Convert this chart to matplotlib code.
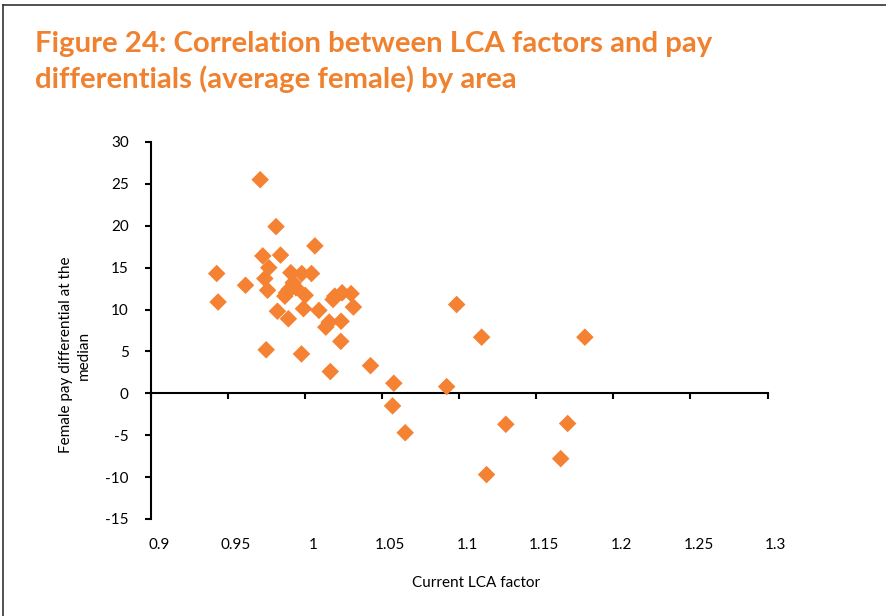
import matplotlib
matplotlib.use('Agg')
import matplotlib.pyplot as plt
from matplotlib.lines import Line2D
from matplotlib import transforms

plt.rcParams['font.family'] = ['Lato', 'DejaVu Sans']

# LCA factor vs female pay differential
lca = [0.9708, 0.9811, 1.0063, 0.9725, 0.9840, 0.9426, 0.9764, 0.9738,
       0.9907, 0.9978, 1.0041, 0.9613, 0.9756, 0.9922, 0.9896, 0.9868,
       1.0000, 0.9435, 0.9989, 0.9820, 0.9891, 1.0089, 1.0181, 1.0192,
       1.0240, 1.0298, 1.0313, 1.0156, 1.0233, 1.0134, 1.0231, 0.9747,
       0.9976, 1.0163, 1.0424, 1.0575, 1.0567, 1.0649, 1.0918, 1.0983,
       1.1145, 1.1815, 1.1302, 1.1703, 1.1658, 1.1177, 0.9940, 0.9879]
pay_diff = [25.5, 19.9, 17.6, 16.4, 16.5, 14.3, 15.0, 13.7,
            14.4, 14.3, 14.3, 12.9, 12.3, 13.2, 12.4, 11.6,
            11.7, 10.9, 10.1, 9.8, 8.9, 9.9, 11.2, 11.6,
            12.0, 11.9, 10.3, 8.5, 8.6, 7.9, 6.2, 5.2,
            4.7, 2.6, 3.3, 1.2, -1.5, -4.7, 0.8, 10.6,
            6.7, 6.7, -3.7, -3.6, -7.8, -9.7, 12.6, 12.0]

x_ticks = [0.9, 0.95, 1.0, 1.05, 1.1, 1.15, 1.2, 1.25, 1.3]
x_labels = ['0.9', '0.95', '1', '1.05', '1.1', '1.15', '1.2', '1.25', '1.3']
y_ticks = [-15, -10, -5, 0, 5, 10, 15, 20, 25, 30]

orange = '#F58233'

fig = plt.figure(figsize=(8.87, 6.16), dpi=100)
ax = fig.add_axes([0.1703, 0.1575, 0.695, 0.612])

ax.scatter(lca, pay_diff, marker='D', s=80, color=orange, edgecolors='none', zorder=3)

ax.set_xlim(0.9, 1.3)
ax.set_ylim(-15, 30)
ax.spines['top'].set_visible(False)
ax.spines['right'].set_visible(False)
ax.spines['bottom'].set_position(('data', 0))
ax.spines['left'].set_linewidth(1.5)
ax.spines['bottom'].set_linewidth(1.5)

ax.set_yticks(y_ticks)
ax.set_yticklabels([str(v) for v in y_ticks])
ax.set_xticks(x_ticks)
ax.tick_params(axis='y', direction='out', length=4, width=1.5, pad=12, labelsize=11)
ax.tick_params(axis='x', direction='out', length=4, width=1.5, labelbottom=False)

# x labels sit at the bottom of the plot, not on the zero line
off = transforms.offset_copy(ax.get_xaxis_transform(), fig=fig, x=8, y=-26, units='dots')
for t, lab in zip(x_ticks, x_labels):
    ax.text(t, 0, lab, transform=off, ha='center', va='center', fontsize=11)

fig.text(476 / 887, 1 - 583 / 616, 'Current LCA factor', ha='center', va='center', fontsize=11)
fig.text(75 / 887, 1 - 355 / 616, 'Female pay differential at the\nmedian', ha='center', va='center',
         rotation=90, fontsize=11, linespacing=1.3)

fig.text(35 / 887, 1 - 44 / 616, 'Figure 24: Correlation between LCA factors and pay',
         color='#F0812F', fontsize=21.2, fontweight='bold', ha='left', va='center')
fig.text(35 / 887, 1 - 79 / 616, 'differentials (average female) by area',
         color='#F0812F', fontsize=21.2, fontweight='bold', ha='left', va='center')

# border of the figure box
fig.add_artist(Line2D([3 / 887, 3 / 887], [0, 1 - 5 / 616], transform=fig.transFigure, color='#333333', lw=1.2))
fig.add_artist(Line2D([3 / 887, 1], [1 - 5 / 616, 1 - 5 / 616], transform=fig.transFigure, color='#333333', lw=1.2))

fig.savefig('out.png', dpi=100)
